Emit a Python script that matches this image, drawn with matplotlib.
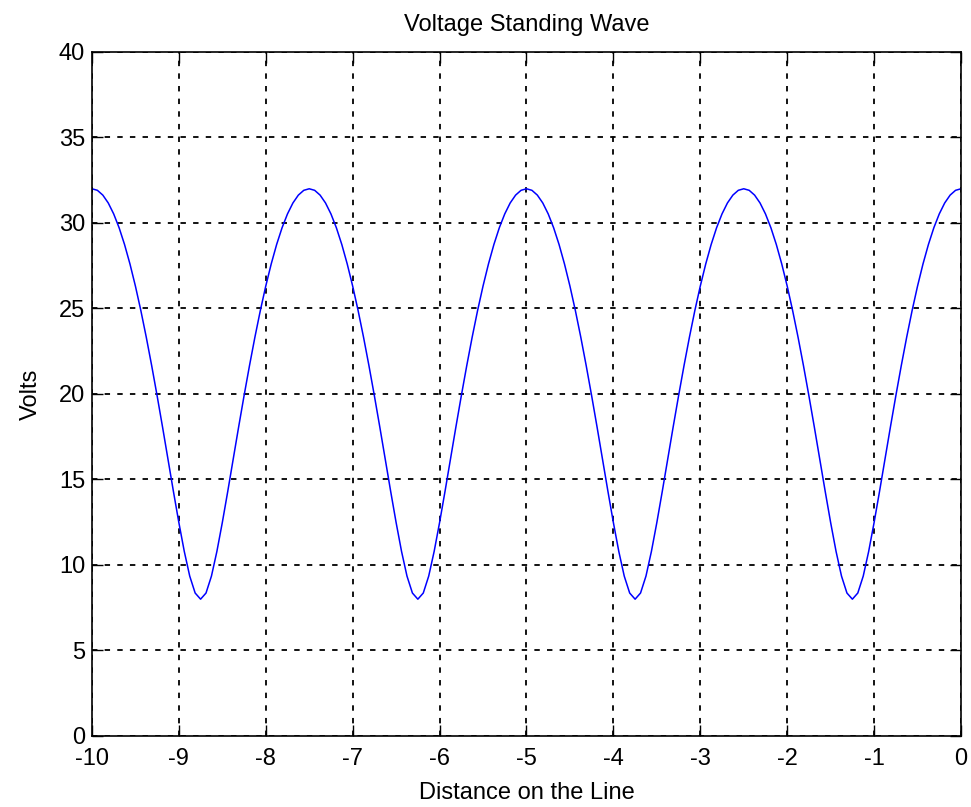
import numpy as np
import matplotlib
matplotlib.use('Agg')
import matplotlib.pyplot as plt

# distance samples on the line (step 1/16) and voltage
z = np.arange(-10, 0.0001, 0.0625)
half_period = [32.0, 31.91, 31.63, 31.17, 30.53, 29.72, 28.74, 27.60, 26.31, 24.88,
               23.32, 21.65, 19.89, 18.06, 16.18, 14.30, 12.48, 10.79, 9.35, 8.36, 8.0]
one_period = half_period + half_period[-2:0:-1]
volts = one_period * 4 + [32.0]

xticks = list(range(-10, 1))
yticks = list(range(0, 41, 5))

plt.rcParams['font.family'] = ['Liberation Sans', 'DejaVu Sans']
plt.rcParams['axes.unicode_minus'] = False

fig = plt.figure(figsize=(9.71, 8.07), dpi=100)
ax = fig.add_axes([0.0947, 0.088, 0.895, 0.8476])

ax.plot(z, volts, color=(0, 0, 1), lw=1.1)

ax.set_xlim(-10, 0)
ax.set_ylim(0, 40)
ax.set_xticks(xticks)
ax.set_yticks(yticks)
ax.tick_params(direction='in', top=True, right=True, length=8, width=1,
               labelsize=17, pad=5)
ax.tick_params(axis='x', pad=9)
ax.grid(True, color='k', linestyle=(0, (3, 4)), linewidth=1.3)
for s in ax.spines.values():
    s.set_linewidth(1.2)

ax.set_title('Voltage Standing Wave', fontsize=17, pad=15)
ax.set_xlabel('Distance on the Line', fontsize=17, labelpad=8)
ax.set_ylabel('Volts', fontsize=17, labelpad=12)

fig.savefig('out.png', dpi=100)
